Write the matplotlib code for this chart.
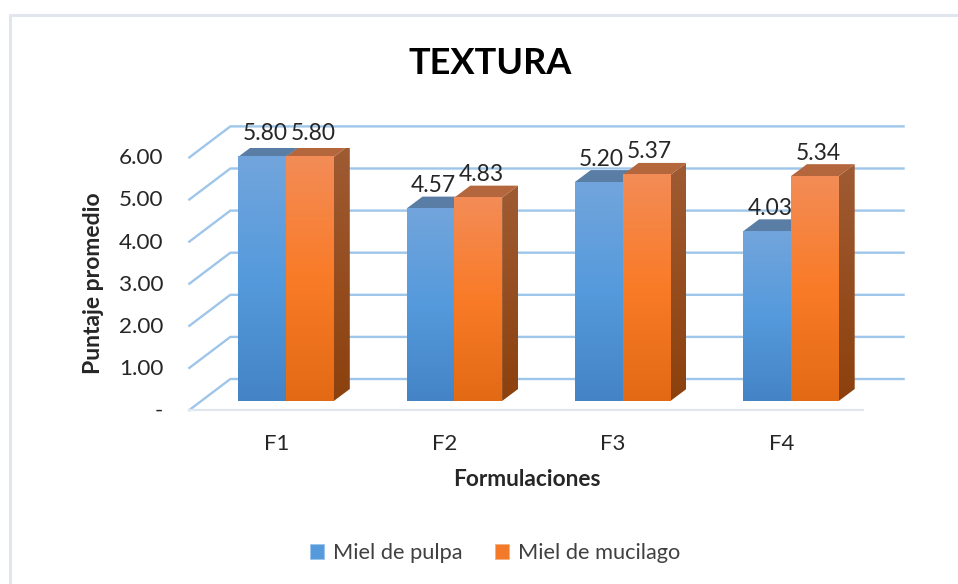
import numpy as np
import matplotlib
matplotlib.use("Agg")
import matplotlib.pyplot as plt
from matplotlib.colors import LinearSegmentedColormap
from matplotlib.lines import Line2D
from matplotlib.patches import Polygon, Patch
from matplotlib.transforms import IdentityTransform

categories = ["F1", "F2", "F3", "F4"]
pulpa = [5.80, 4.57, 5.20, 4.03]
mucilago = [5.80, 4.83, 5.37, 5.34]
series_names = ["Miel de pulpa", "Miel de mucilago"]
y_ticks = [0, 1, 2, 3, 4, 5, 6]
y_tick_labels = ["-", "1.00", "2.00", "3.00", "4.00", "5.00", "6.00"]
title = "TEXTURA"
xlabel = "Formulaciones"
ylabel = "Puntaje promedio"

W, H = 958, 584
plt.rcParams['font.family'] = ['Lato', 'DejaVu Sans']
fig = plt.figure(figsize=(W / 100, H / 100), dpi=100, facecolor='white')


def px_rect(l, t, r, b):
    return [l / W, 1 - b / H, (r - l) / W, (b - t) / H]


# axes = front plane of the bars
ax = fig.add_axes(px_rect(201.85, 148.4, 875.05, 401))
ax.set_xlim(-0.5, 3.5)
ax.set_ylim(0, 6)
ax.axis('off')

GRID = '#9EC6EA'
FLOOR = '#E1E5EE'
BW = 0.284
BAR_D = (16, 12)
WALL = (28.5, 22)     # bar plane -> back wall
FRONT = (-12.5, -9)   # bar plane -> front edge of floor
idt = IdentityTransform()


def pt(x, v, off=(0, 0)):
    p = ax.transData.transform((x, v))
    return (p[0] + off[0], p[1] + off[1])


# chart frame (left and top only)
fig.add_artist(Line2D([9.5 / W, 9.5 / W, 1], [0, 1 - 14.5 / H, 1 - 14.5 / H],
                      transform=fig.transFigure, color='#E1E5EE', lw=2.2))

# walls / gridlines
for v in y_ticks:
    a = pt(-0.5, v, FRONT)
    b = pt(-0.5, v, WALL)
    c = pt(3.5, v, WALL)
    ax.add_line(Line2D([a[0], b[0], c[0]], [a[1], b[1], c[1]], transform=idt,
                       color=GRID, lw=1.7, zorder=1, clip_on=False))
a, b = pt(-0.5, 0, FRONT), pt(3.5, 0, FRONT)
ax.add_line(Line2D([a[0], b[0]], [a[1], b[1]], transform=idt, color=FLOOR,
                   lw=1.6, zorder=1.1, clip_on=False))

blue = LinearSegmentedColormap.from_list('b', ['#4484C6', '#559ADC', '#72A5DC'])
orange = LinearSegmentedColormap.from_list('o', ['#E36A15', '#F97B27', '#F38C57'])
blue_side = LinearSegmentedColormap.from_list('bs', ['#2E5F90', '#4A7BAE'])
orange_side = LinearSegmentedColormap.from_list('os', ['#8C410D', '#9F5B33'])
grad = np.linspace(1, 0, 256).reshape(-1, 1)


def draw_bar(x0, v, front_cm, side_cm, top_col, z):
    x1 = x0 + BW
    side = Polygon([pt(x1, 0), pt(x1, 0, BAR_D), pt(x1, v, BAR_D), pt(x1, v)],
                   transform=idt, facecolor='none', edgecolor='none', zorder=z)
    ax.add_patch(side)
    dx = BAR_D[0] / (ax.transData.transform((1, 0))[0] - ax.transData.transform((0, 0))[0])
    dv = BAR_D[1] / (ax.transData.transform((0, 1))[1] - ax.transData.transform((0, 0))[1])
    im = ax.imshow(grad, extent=(x1, x1 + dx, 0, v + dv), cmap=side_cm, vmin=0, vmax=1,
                   aspect='auto', zorder=z, clip_on=True)
    im.set_clip_path(side)
    top = Polygon([pt(x0, v), pt(x0, v, BAR_D), pt(x1, v, BAR_D), pt(x1, v)],
                  transform=idt, facecolor=top_col, edgecolor='none', zorder=z)
    ax.add_patch(top)
    ax.imshow(grad, extent=(x0, x1, 0, v), cmap=front_cm, vmin=0, vmax=1,
              aspect='auto', zorder=z + 0.1, clip_on=False)


for i in range(len(categories)):
    draw_bar(i - BW, pulpa[i], blue, blue_side, '#5A7DA6', 2 + i * 0.01)
    draw_bar(i, mucilago[i], orange, orange_side, '#B4663C', 3 + i * 0.01)
ax.set_xlim(-0.5, 3.5)
ax.set_ylim(0, 6)

TXT = '#262626'
# data labels
for i in range(len(categories)):
    for x, v in ((i - BW / 2, pulpa[i]), (i + BW / 2, mucilago[i])):
        ax.annotate(f"{v:.2f}", (x, v), xytext=(3, 23), textcoords='offset pixels',
                    ha='center', va='center', fontsize=16.4, color=TXT, zorder=6,
                    annotation_clip=False)

# y tick labels on the front edge
for v, s in zip(y_ticks, y_tick_labels):
    ax.annotate(s, (-0.5, v), xytext=(FRONT[0] - 26, FRONT[1] - 1), textcoords='offset pixels',
                ha='right', va='center', fontsize=16.2, color=TXT, annotation_clip=False)

# x tick labels
for i, s in enumerate(categories):
    ax.annotate(s, (i, 0), xytext=(-9.5, -43), textcoords='offset pixels',
                ha='center', va='center', fontsize=16, color=TXT, annotation_clip=False)

fig.text(490 / W, 1 - 64 / H, title, ha='center', va='center', fontsize=26,
         fontweight='bold', color='black')
fig.text(527 / W, 1 - 479 / H, xlabel, ha='center', va='center', fontsize=16.3,
         fontweight='bold', color=TXT)
fig.text(93 / W, 1 - 283 / H, ylabel, ha='center', va='center', rotation=90,
         fontsize=16.5, fontweight='bold', color=TXT)

handles = [Patch(facecolor='#559ADC', edgecolor='#9CC3EA', lw=0.6),
           Patch(facecolor='#F37A28', edgecolor='#F5B080', lw=0.6)]
fig.legend(handles, series_names, loc='center', bbox_to_anchor=(495 / W, 1 - 553 / H),
           ncol=2, frameon=False, fontsize=15.7, handlelength=0.64, handleheight=0.64,
           handletextpad=0.4, columnspacing=1.5, labelcolor='#404040',
           borderpad=0, borderaxespad=0)

fig.savefig('out.png', dpi=100, facecolor='white')
